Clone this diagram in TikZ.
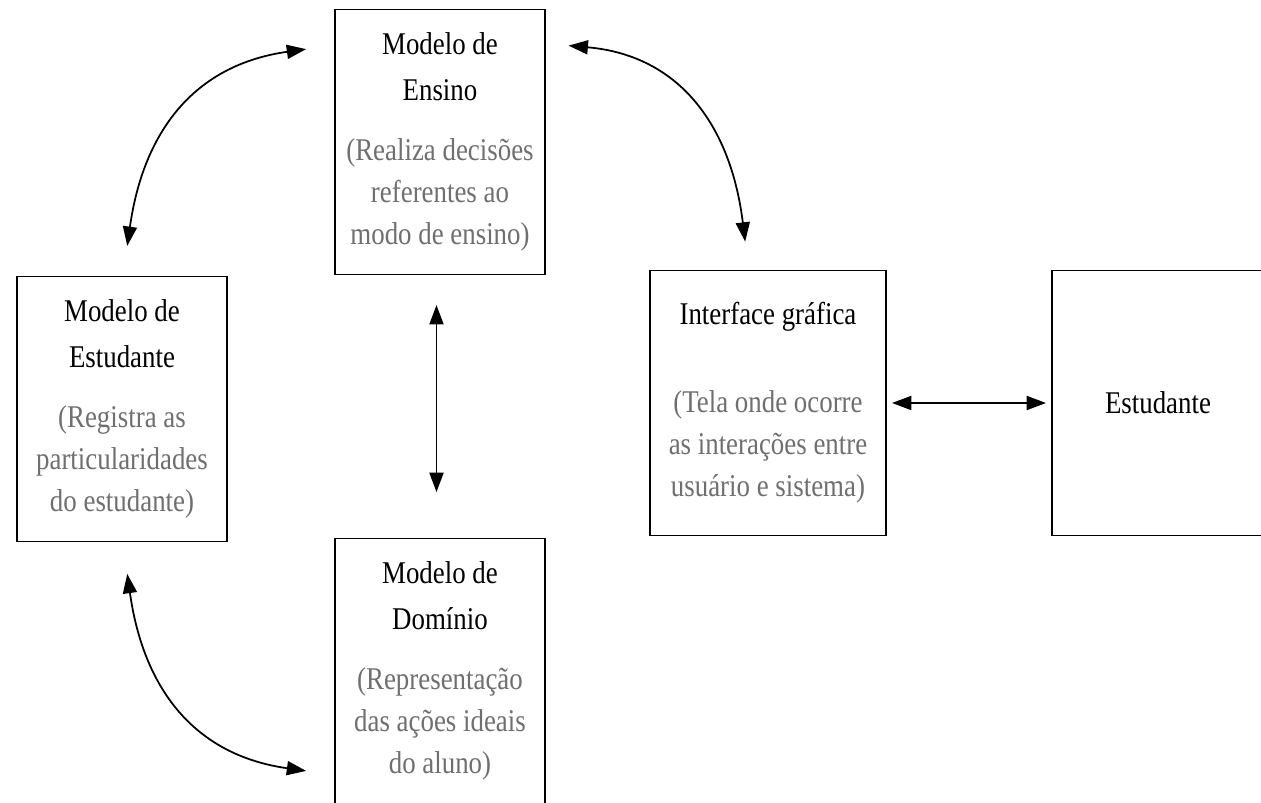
\documentclass[tikz,border=0pt]{standalone}
\usepackage{fontspec}
\setmainfont{Liberation Serif}[FakeStretch=0.85]
\usetikzlibrary{arrows.meta,calc,positioning}
\definecolor{descgray}{HTML}{6F6F6F}
\newcommand{\dsc}[1]{\textcolor{descgray}{#1}}
\tikzset{
  modbox/.style={draw,line width=0.9pt,align=center,minimum width=4.2cm,
    minimum height=5.3cm,inner sep=0pt,font=\fontsize{18}{24}\selectfont},
  link/.style={line width=1pt,
    {Triangle[length=11pt,width=8pt]}-{Triangle[length=11pt,width=8pt]}},
}
\begin{document}
\begin{tikzpicture}[x=0.02cm,y=-0.02cm]
  \useasboundingbox (0,0) rectangle (1261,803);
  % Teaching model
  \node[modbox] (ensino) at (440,142) {Modelo de\\[2pt]Ensino\\[10pt]
    \dsc{(Realiza decisões}\\\dsc{referentes ao}\\\dsc{modo de ensino)}};
  % Student model
  \node[modbox] (estmodel) at (122,409) {Modelo de\\[2pt]Estudante\\[10pt]
    \dsc{(Registra as}\\\dsc{particularidades}\\\dsc{do estudante)}};
  % Domain model
  \node[modbox] (dominio) at (440,671) {Modelo de\\[2pt]Domínio\\[10pt]
    \dsc{(Representação}\\\dsc{das ações ideais}\\\dsc{do aluno)}};
  % Interface
  \node[modbox,minimum width=4.72cm] (interface) at (768,403) {Interface gráfica\\[26pt]
    \dsc{(Tela onde ocorre}\\\dsc{as interações entre}\\\dsc{usuário e sistema)}};
  % Student
  \node[modbox,minimum width=4.24cm] (estudante) at (1158,403) {Estudante};
  % Connectors
  \draw[link] ([xshift=3pt,yshift=17pt]estmodel.north) to[out=82,in=188,looseness=1.1]
    ([xshift=-16pt,yshift=-23pt]ensino.north west);
  \draw[link] ([xshift=13pt,yshift=-21pt]ensino.north east) to[out=-5,in=97,looseness=1.1]
    ([xshift=-13pt,yshift=16pt]interface.north);
  \draw[link] ([xshift=3pt,yshift=-18pt]estmodel.south) to[out=-82,in=172,looseness=1.1]
    ([xshift=-16pt,yshift=19pt]dominio.south west);
  \draw[link] ([xshift=-2pt,yshift=-17pt]ensino.south) --
    ([xshift=-2pt,yshift=26pt]dominio.north);
  \draw[link] ([xshift=3pt]interface.east) -- ([xshift=-3pt]estudante.west);
\end{tikzpicture}
\end{document}
